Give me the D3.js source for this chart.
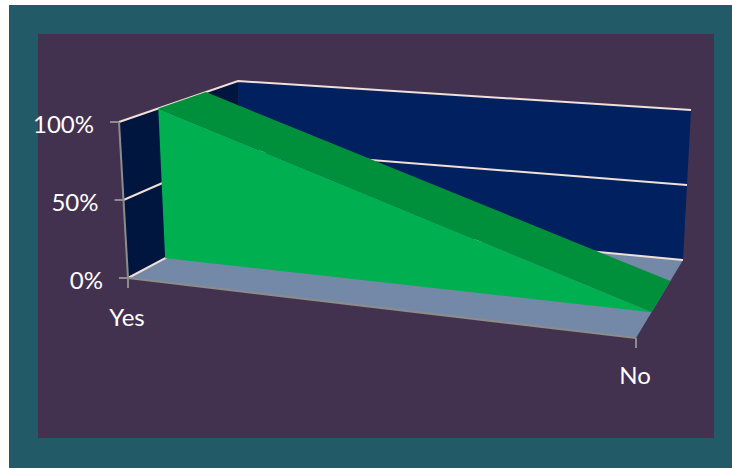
<!DOCTYPE html>
<html><head><meta charset="utf-8">
<script src="https://cdnjs.cloudflare.com/ajax/libs/d3/7.8.5/d3.min.js"></script>
<style>html,body{margin:0;padding:0;background:#fff}svg{display:block}text{font-family:Lato,"Open Sans",sans-serif;fill:#fff;font-size:24px}</style>
</head><body><svg id="c" width="732" height="468"></svg>
<script>
const categories = ["Yes", "No"];
const seriesValues = [100, 0];
const valueTicks = [0, 50, 100];
const tickLabels = ["0%", "50%", "100%"];
const seriesDepth = [0.33, 0.73];

const svg = d3.select("#c");
svg.append("rect").attr("x",9).attr("y",5).attr("width",723).attr("height",463).attr("fill","#235a68");
svg.append("rect").attr("x",38).attr("y",34).attr("width",676).attr("height",404).attr("fill","#43324f");

// Box corners on screen: [category, value, depth]
const box = {
  "000":[128,278], "100":[636,338], "010":[119,122], "110":[645,163],
  "001":[240.5,218], "101":[683,260], "011":[238,81], "111":[691,110]
};
const xS = d3.scalePoint().domain(categories).range([0,1]);
const yS = d3.scaleLinear().domain([0,100]).range([0,1]);
const lerp = (a,b,t)=>[a[0]+(b[0]-a[0])*t,a[1]+(b[1]-a[1])*t];
function project(u,v,w){
  const a=lerp(box["000"],box["100"],u), b=lerp(box["010"],box["110"],u);
  const c=lerp(box["001"],box["101"],u), d=lerp(box["011"],box["111"],u);
  return lerp(lerp(a,b,v),lerp(c,d,v),w);
}
const line=d3.line();
const poly=(pts,fill)=>svg.append("path").attr("d",line(pts)+"Z").attr("fill",fill);
const seg=(a,b,col,w)=>svg.append("path").attr("d",line([a,b])).attr("stroke",col).attr("stroke-width",w).attr("fill","none");

// walls and floor
poly([project(0,0,0),project(0,1,0),project(0,1,1),project(0,0,1)],"#00163f");
poly([project(0,0,1),project(0,1,1),project(1,1,1),project(1,0,1)],"#002060");
poly([project(0,0,0),project(1,0,0),project(1,0,1),project(0,0,1)],"#7488a8");

// gridlines
valueTicks.forEach(t=>{
  const v=yS(t);
  svg.append("path").attr("d",line([project(0,v,0),project(0,v,1),project(1,v,1)]))
    .attr("fill","none").attr("stroke","#f0e0d6").attr("stroke-width",2);
});

// series: top band then front face
const front=categories.map((c,i)=>project(xS(c),yS(seriesValues[i]),seriesDepth[0]));
const back=categories.map((c,i)=>project(xS(c),yS(seriesValues[i]),seriesDepth[1]));
const base=categories.map(c=>project(xS(c),0,seriesDepth[0]));
poly(front.concat(back.slice().reverse()),"#00903c");
poly(front.concat(base.slice().reverse()),"#00b050");

// axes
const axisCol="#8c8c8c";
seg(project(0,1,0),project(0,0,0),axisCol,2);
seg(project(0,0,0),project(1,0,0),axisCol,2);
const tk=9;
valueTicks.forEach((t,i)=>{
  const p=project(0,yS(t),0);
  seg([p[0]-tk,p[1]],p,axisCol,2);
  svg.append("text").attr("x",p[0]-tk-16).attr("y",p[1]+2).attr("dy","0.36em").attr("text-anchor","end").text(tickLabels[i]);
});
categories.forEach(c=>{
  const p=project(xS(c),0,0);
  seg(p,[p[0],p[1]+10],axisCol,2);
  svg.append("text").attr("x",p[0]-1).attr("y",p[1]+39+(xS(c)*-2)).attr("dy","0.36em").attr("text-anchor","middle").text(c);
});
</script></body></html>
